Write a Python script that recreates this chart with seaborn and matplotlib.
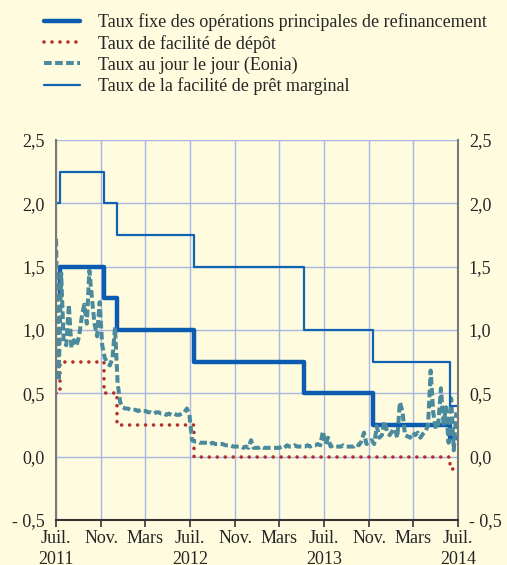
import pandas as pd
import numpy as np
import matplotlib
matplotlib.use("Agg")
import matplotlib.pyplot as plt
from matplotlib.ticker import FuncFormatter
import seaborn as sns

# ECB key rates (step changes)
step_dates = ["2011-07-01", "2011-07-13", "2011-11-09", "2011-12-14", "2012-07-11",
              "2013-05-08", "2013-11-13", "2014-06-11", "2014-07-01"]
mro_rate = [1.25, 1.50, 1.25, 1.00, 0.75, 0.50, 0.25, 0.15, 0.15]
depo_rate = [0.50, 0.75, 0.50, 0.25, 0.00, 0.00, 0.00, -0.10, -0.10]
mlf_rate = [2.00, 2.25, 2.00, 1.75, 1.50, 1.00, 0.75, 0.40, 0.40]

# Eonia, weekly readings starting 2011-07-01
eonia = [
    1.72, 0.60, 1.45, 0.90, 0.88,          # juil. 2011
    1.20, 0.86, 0.92, 0.88,                # août
    0.95, 1.10, 1.20, 1.05, 1.47,          # sept.
    1.25, 1.05, 0.95, 1.22,                # oct.
    0.88, 0.78, 0.74, 0.72,                # nov.
    0.78, 1.02, 0.58, 0.43, 0.39,          # déc.
    0.38, 0.38, 0.37, 0.37,                # janv. 2012
    0.37, 0.36, 0.37, 0.36,
    0.36, 0.35, 0.35, 0.34, 0.35,
    0.35, 0.34, 0.34, 0.33,
    0.34, 0.33, 0.34, 0.33,
    0.33, 0.34, 0.35, 0.38, 0.33,          # juin 2012
    0.13, 0.12, 0.12, 0.11,                # juil. 2012
    0.11, 0.11, 0.11, 0.10, 0.11,
    0.10, 0.10, 0.10, 0.10,
    0.09, 0.09, 0.09, 0.08,
    0.08, 0.08, 0.08, 0.07, 0.08,
    0.07, 0.13, 0.07, 0.07,                # déc. 2012
    0.07, 0.08, 0.07, 0.07,                # janv. 2013
    0.07, 0.07, 0.07, 0.07,
    0.07, 0.08, 0.07, 0.09, 0.08,
    0.08, 0.09, 0.08, 0.08,
    0.08, 0.08, 0.09, 0.08, 0.09,
    0.09, 0.10, 0.09, 0.20,                # juin 2013
    0.10, 0.15, 0.08, 0.09,                # juil. 2013
    0.08, 0.08, 0.08, 0.09, 0.08,
    0.08, 0.08, 0.08, 0.10,
    0.09, 0.12, 0.19, 0.10,
    0.11, 0.13, 0.10, 0.24, 0.15,          # nov. 2013
    0.17, 0.28, 0.20, 0.17,                # déc. 2013
    0.20, 0.22, 0.15, 0.43, 0.36,          # janv. 2014
    0.17, 0.16, 0.15, 0.19,
    0.17, 0.19, 0.15, 0.18,
    0.20, 0.25, 0.68, 0.35,
    0.22, 0.26, 0.54, 0.26, 0.39,          # mai 2014
    0.11, 0.46, 0.05, 0.35,                # juin 2014
]

tick_dates = ["2011-07-01", "2011-11-01", "2012-03-01", "2012-07-01", "2012-11-01",
              "2013-03-01", "2013-07-01", "2013-11-01", "2014-03-01", "2014-07-01"]
tick_labels = ["Juil.\n2011", "Nov.", "Mars", "Juil.\n2012", "Nov.",
               "Mars", "Juil.\n2013", "Nov.", "Mars", "Juil.\n2014"]
y_ticks = [-0.5, 0.0, 0.5, 1.0, 1.5, 2.0, 2.5]

steps = pd.DataFrame({"date": pd.to_datetime(step_dates), "mro": mro_rate,
                      "depo": depo_rate, "mlf": mlf_rate})
eon = pd.DataFrame({"date": pd.date_range("2011-07-01", periods=len(eonia), freq="7D"),
                    "eonia": eonia})

bg = "#fefbdf"
sns.set_style("ticks")
plt.rcParams["font.family"] = ["Liberation Serif", "DejaVu Serif"]
plt.rcParams["font.size"] = 12.5

fig = plt.figure(figsize=(5.07, 5.65), dpi=100, facecolor=bg)
ax = fig.add_axes([0.1105, 0.0796, 0.7924, 0.6726])
ax.set_facecolor(bg)

sns.lineplot(data=steps, x="date", y="mro", ax=ax, color="#0b5cb0", linewidth=3.2,
             drawstyle="steps-post", label="Taux fixe des opérations principales de refinancement")
sns.lineplot(data=steps, x="date", y="depo", ax=ax, color="#b3312c", linewidth=2.6,
             linestyle=(0, (0.01, 2.2)), dash_capstyle="round", drawstyle="steps-post",
             label="Taux de facilité de dépôt")
sns.lineplot(data=eon, x="date", y="eonia", ax=ax, color="#4a8a9c", linewidth=2.9,
             linestyle=(0, (1.9, 0.85)), label="Taux au jour le jour (Eonia)")
sns.lineplot(data=steps, x="date", y="mlf", ax=ax, color="#1262b4", linewidth=1.6,
             drawstyle="steps-post", label="Taux de la facilité de prêt marginal")

ax.set_xlim(pd.Timestamp("2011-07-01"), pd.Timestamp("2014-07-01"))
ax.set_ylim(-0.5, 2.5)
ax.set_xticks(pd.to_datetime(tick_dates))
ax.set_xticklabels(tick_labels, linespacing=1.35)
ax.set_yticks(y_ticks)
fmt = FuncFormatter(lambda v, p: ("- " if v < 0 else "") + f"{abs(v):.1f}".replace(".", ","))
ax.yaxis.set_major_formatter(fmt)
ax.set_xlabel("")
ax.set_ylabel("")

ax.grid(True, color="#aab6e2", linewidth=1.0)
ax.set_axisbelow(True)
ax.tick_params(axis="y", length=0, labelleft=True, labelright=True, pad=8, labelsize=13)
ax.tick_params(axis="x", length=5, width=1.2, color="#333333", pad=2, labelsize=13)
ax.spines["top"].set_visible(False)
for side in ["left", "right"]:
    ax.spines[side].set_color("#7a7a7a")
    ax.spines[side].set_linewidth(1.5)
ax.spines["bottom"].set_color("#333333")
ax.spines["bottom"].set_linewidth(1.5)

ax.get_legend().remove()
handles, labels = ax.get_legend_handles_labels()
fig.legend(handles, labels, loc="upper left", bbox_to_anchor=(0.055, 1.005), frameon=False,
           handlelength=2.0, handletextpad=1.0, labelspacing=0.2, fontsize=13)

fig.savefig("out.png", dpi=100, facecolor=bg)
